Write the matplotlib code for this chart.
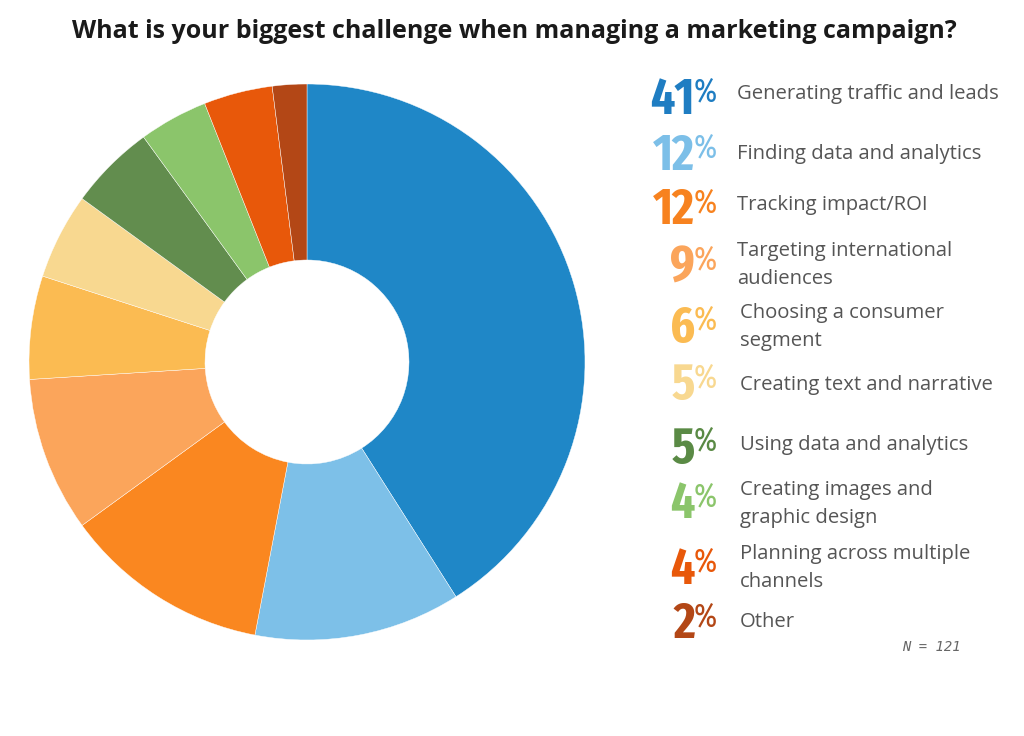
import matplotlib
matplotlib.use('Agg')
import matplotlib.pyplot as plt
from matplotlib import font_manager as fm

# ---------------- data ----------------
title = "What is your biggest challenge when managing a marketing campaign?"
categories = [
    "Generating traffic and leads",
    "Finding data and analytics",
    "Tracking impact/ROI",
    "Targeting international\naudiences",
    "Choosing a consumer\nsegment",
    "Creating text and narrative",
    "Using data and analytics",
    "Creating images and\ngraphic design",
    "Planning across multiple\nchannels",
    "Other",
]
values = [41, 12, 12, 9, 6, 5, 5, 4, 4, 2]
slice_colors = ["#1F87C7", "#7DC0E8", "#FA8720", "#FBA55B", "#FBBB52",
                "#F8D890", "#628D4E", "#8BC56B", "#E8580A", "#B34716"]
label_colors = ["#1F7DC2", "#7CBFE8", "#F7821F", "#FBA55B", "#FBBB52",
                "#F8D890", "#5A8A45", "#8BC56B", "#E8580A", "#B34716"]
note = "N = 121"

# ---------------- layout ----------------
W, H = 1024, 736
row_y = [95, 151, 206, 263, 323, 381, 444, 500, 565, 620]   # px from top
label_yc = [94, 154, 205, 265, 327, 385, 445, 504, 568, 622]
label_xs = [737, 737, 737, 737, 740, 740, 740, 740, 740, 740]
pct_right = 717


def fx(px):
    return px / W


def fy(py):
    return 1 - py / H


def pick_condensed(wmin, wmax, target):
    best = None
    for f in fm.fontManager.ttflist:
        n = (f.name + " " + f.fname).lower()
        if 'mono' in n or 'cjk' in n or 'italic' in n or 'oblique' in n:
            continue
        st = f.stretch
        if isinstance(st, str):
            st = fm.stretch_dict.get(st, 500)
        if 'extracondensed' in n.replace(' ', '').replace('-', ''):
            st = min(st, 200)
        elif 'condensed' in n or 'narrow' in n:
            st = min(st, 300)
        if st >= 500:
            continue
        w = f.weight
        if isinstance(w, str):
            w = fm.weight_dict.get(w, 400)
        if w < wmin or w > wmax:
            continue
        key = (st, abs(w - target))
        if best is None or key < best[0]:
            best = (key, f.fname)
    if best:
        return fm.FontProperties(fname=best[1])
    return None


cond_bold = pick_condensed(600, 800, 700) or fm.FontProperties(family='DejaVu Sans', weight='bold')
cond_reg = pick_condensed(400, 550, 400) or cond_bold

fig = plt.figure(figsize=(W / 100, H / 100), dpi=100)
fig.patch.set_facecolor('white')

# ---------------- donut ----------------
cx, cy, r = 307, 362, 278
ax = fig.add_axes([fx(cx - r), (H - cy - r) / H, 2 * r / W, 2 * r / H])
ax.pie(values, colors=slice_colors, startangle=90, counterclock=False,
       radius=1.0,
       wedgeprops=dict(width=1 - 102 / 278, edgecolor='white', linewidth=0.3))
ax.set_xlim(-1, 1)
ax.set_ylim(-1, 1)
ax.set_aspect('equal')
ax.axis('off')

# ---------------- title ----------------
t_title = fig.text(fx(514), fy(31), title, ha='center', va='center',
                   fontsize=16, fontweight='bold', family='Open Sans',
                   color='#1a1a1a')

# ---------------- legend ----------------
pct_texts = []
num_texts = []
for i, (cat, v) in enumerate(zip(categories, values)):
    yc = row_y[i]
    top = yc - 18.5
    base = yc + 18.5
    tp = fig.text(fx(pct_right), fy(top), "%", ha='right', va='top',
                  fontproperties=cond_reg, fontsize=24, color=label_colors[i])
    tn = fig.text(fx(pct_right), fy(base), str(v), ha='right', va='baseline',
                  fontproperties=cond_bold, fontsize=37, color=label_colors[i])
    pct_texts.append(tp)
    num_texts.append(tn)
    fig.text(fx(label_xs[i]), fy(label_yc[i]), cat, ha='left', va='center',
             fontsize=14.6, family='Open Sans', color='#555555',
             linespacing=1.5)

fig.text(fx(931), fy(647), note, ha='center', va='center', fontsize=10,
         family='DejaVu Sans Mono', style='italic', color='#666666')

# fit title width and place digits left of the % signs
fig.canvas.draw()
rend = fig.canvas.get_renderer()
bb = t_title.get_window_extent(rend)
t_title.set_fontsize(16 * 882 / bb.width)
for tp, tn in zip(pct_texts, num_texts):
    w = tp.get_window_extent(rend).width
    tn.set_x(fx(pct_right - w + 1))

fig.savefig('out.png', dpi=100, facecolor='white')
